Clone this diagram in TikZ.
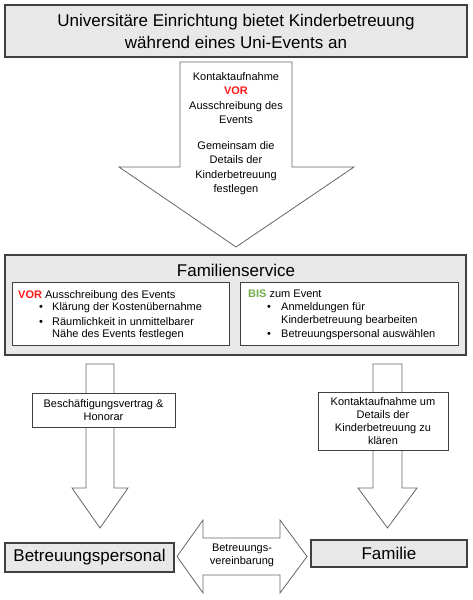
\documentclass[tikz,border=0pt]{standalone}
\usepackage{fontspec}
\setmainfont{Liberation Sans}
\usetikzlibrary{positioning}
\definecolor{boxgray}{HTML}{E8E8E8}
\definecolor{vorred}{HTML}{FF1A1A}
\definecolor{bisgreen}{HTML}{72B04E}
\definecolor{linegray}{HTML}{404040}

\begin{document}
\begin{tikzpicture}[x=1pt,y=-1pt,
    graybox/.style={draw=linegray,fill=boxgray,line width=1.1pt,inner sep=0pt},
    whitebox/.style={draw=linegray,fill=white,line width=1pt,inner sep=0pt},
    blockarrow/.style={draw=black!60,fill=white,line width=0.8pt,line join=miter},
    bigtext/.style={font=\fontsize{17}{22}\selectfont,align=center},
    smalltext/.style={font=\fontsize{11}{14.5}\selectfont,align=center,inner sep=0pt},
    listtext/.style={font=\fontsize{11}{12.4}\selectfont,align=left,inner sep=0pt}]
    \useasboundingbox (0,0) rectangle (472,600);

    % Title
    \node[graybox,minimum width=462pt,minimum height=52pt,bigtext] (title) at (236,31)
        {Universitäre Einrichtung bietet Kinderbetreuung\\während eines Uni-Events an};

    % Big arrow down to the Familienservice
    \draw[blockarrow] (180,62) -- (292,62) -- (292,167) -- (354,167) -- (236,247)
        -- (119,167) -- (180,167) -- cycle;
    \node[smalltext] (kontakt) at (236,98)
        {Kontaktaufnahme\\\textcolor{vorred}{\textbf{VOR}}\\Ausschreibung des\\Events};
    \node[smalltext,below=17pt of kontakt] (details)
        {Gemeinsam die\\Details der\\Kinderbetreuung\\festlegen};

    % Familienservice
    \node[graybox,minimum width=461pt,minimum height=100pt] (famservice) at (235.5,305) {};
    \node[bigtext,inner sep=0pt] (famtitle) at (236,270) {Familienservice};
    \node[whitebox,minimum width=217pt,minimum height=63pt] (vorbox) at (120.5,313.5) {};
    \node[whitebox,minimum width=218pt,minimum height=63pt] (bisbox) at (349,313.5) {};
    \node[listtext,anchor=north west] (vorlist) at (18,290)
        {\textcolor{vorred}{\textbf{VOR}} Ausschreibung des Events\\
         \hspace*{21pt}\makebox[13pt][l]{•}Klärung der Kostenübernahme\\[2.4pt]
         \hspace*{21pt}\makebox[13pt][l]{•}Räumlichkeit in unmittelbarer\\
         \hspace*{34pt}Nähe des Events festlegen};
    \node[listtext,anchor=north west,font=\fontsize{11}{13.3}\selectfont] (bislist) at (248,289.5)
        {\textcolor{bisgreen}{\textbf{BIS}} zum Event\\
         \hspace*{19pt}\makebox[14pt][l]{•}Anmeldungen für\\
         \hspace*{33pt}Kinderbetreuung bearbeiten\\
         \hspace*{19pt}\makebox[14pt][l]{•}Betreuungspersonal auswählen};

    % Arrows to the personnel and the family
    \draw[blockarrow] (86,364) -- (114,364) -- (114,488) -- (128,488) -- (100,528)
        -- (72,488) -- (86,488) -- cycle;
    \draw[blockarrow] (373,364) -- (402,364) -- (402,488) -- (417,488) -- (387.5,528)
        -- (358,488) -- (373,488) -- cycle;
    \node[whitebox,minimum width=143pt,minimum height=34pt,
        font=\fontsize{11}{12.5}\selectfont,align=center] (vertrag) at (103.5,410)
        {Beschäftigungsvertrag \&\\Honorar};
    \node[whitebox,minimum width=130pt,minimum height=58pt,
        font=\fontsize{11}{13}\selectfont,align=center] (klaeren) at (383,421)
        {Kontaktaufnahme um\\Details der\\Kinderbetreuung zu\\klären};

    % Bottom row
    \node[graybox,minimum width=169pt,minimum height=29pt,bigtext] (personal) at (89.5,557.5)
        {Betreuungspersonal};
    \node[graybox,minimum width=156pt,minimum height=27pt,bigtext] (familie) at (389,553.5)
        {Familie};
    \draw[blockarrow] (177,556.5) -- (203,520) -- (203,538) -- (280,538) -- (280,520)
        -- (307,556.5) -- (280,593) -- (280,575) -- (203,575) -- (203,593) -- cycle;
    \node[font=\fontsize{11}{13}\selectfont,align=center,inner sep=0pt] (vereinb) at (242,555.5)
        {Betreuungs-\\vereinbarung};
\end{tikzpicture}
\end{document}
